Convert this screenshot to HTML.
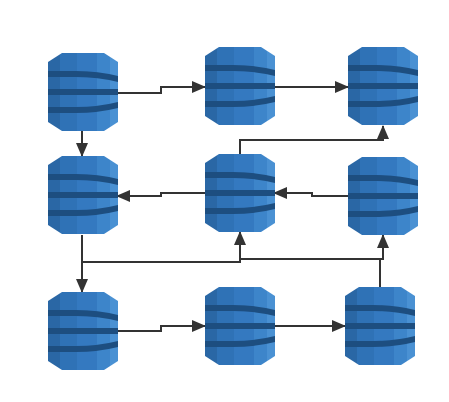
<!DOCTYPE html>
<html><head><style>html,body{margin:0;padding:0;background:#fff;}svg{display:block}</style></head>
<body>
<svg width="449" height="402" viewBox="0 0 449 402" xmlns="http://www.w3.org/2000/svg">
<defs>
<clipPath id="oc"><path d="M14,0 H56 L70,9 V69 L56,78 H14 L0,69 V9 Z"/></clipPath>
<g id="db">
<g clip-path="url(#oc)">
<rect x="0" y="0" width="12" height="78" fill="#2a67a5"/>
<rect x="12" y="0" width="17" height="78" fill="#2f72b6"/>
<rect x="29" y="0" width="20" height="78" fill="#3479c0"/>
<rect x="49" y="0" width="13" height="78" fill="#3d85ca"/>
<rect x="62" y="0" width="8" height="78" fill="#4a91d3"/>
<path d="M0,18 H28 Q50,18 70,23 V29 Q50,24 28,24 H0 Z" fill="#1d4e80"/>
<rect x="0" y="36" width="70" height="6" fill="#1d4e80"/>
<path d="M0,54 H28 Q50,54 70,49 V55 Q50,60 28,60 H0 Z" fill="#1d4e80"/>
</g>
</g>
<marker id="ar" markerWidth="14" markerHeight="12" refX="13" refY="6" orient="auto" markerUnits="userSpaceOnUse"><path d="M0,0 L14,6 L0,12 Z" fill="#333"/></marker>
</defs>
<g stroke="#333" stroke-width="2" fill="none" marker-end="url(#ar)">
<path d="M117,93 H161 V87 H205"/>
<path d="M274,87 H348"/>
<path d="M82,130 V156"/>
<path d="M205,193 H161 V196 H117"/>
<path d="M348,196 H312 V193 H274"/>
<path d="M240,154 V140 H383 V126"/>
<path d="M82,235 V292"/>
<path d="M82,262 H240 V232"/>
<path d="M380,287 V259 H383 V235"/>
<path d="M117,331 H161 V326 H205"/>
<path d="M274,326 H345"/>
</g>
<path d="M240,259 H382" stroke="#333" stroke-width="2" fill="none"/>
<use href="#db" x="48" y="53"/>
<use href="#db" x="205" y="47"/>
<use href="#db" x="348" y="47"/>
<use href="#db" x="48" y="156"/>
<use href="#db" x="205" y="154"/>
<use href="#db" x="348" y="157"/>
<use href="#db" x="48" y="292"/>
<use href="#db" x="205" y="287"/>
<use href="#db" x="345" y="287"/>
</svg>
</body></html>
